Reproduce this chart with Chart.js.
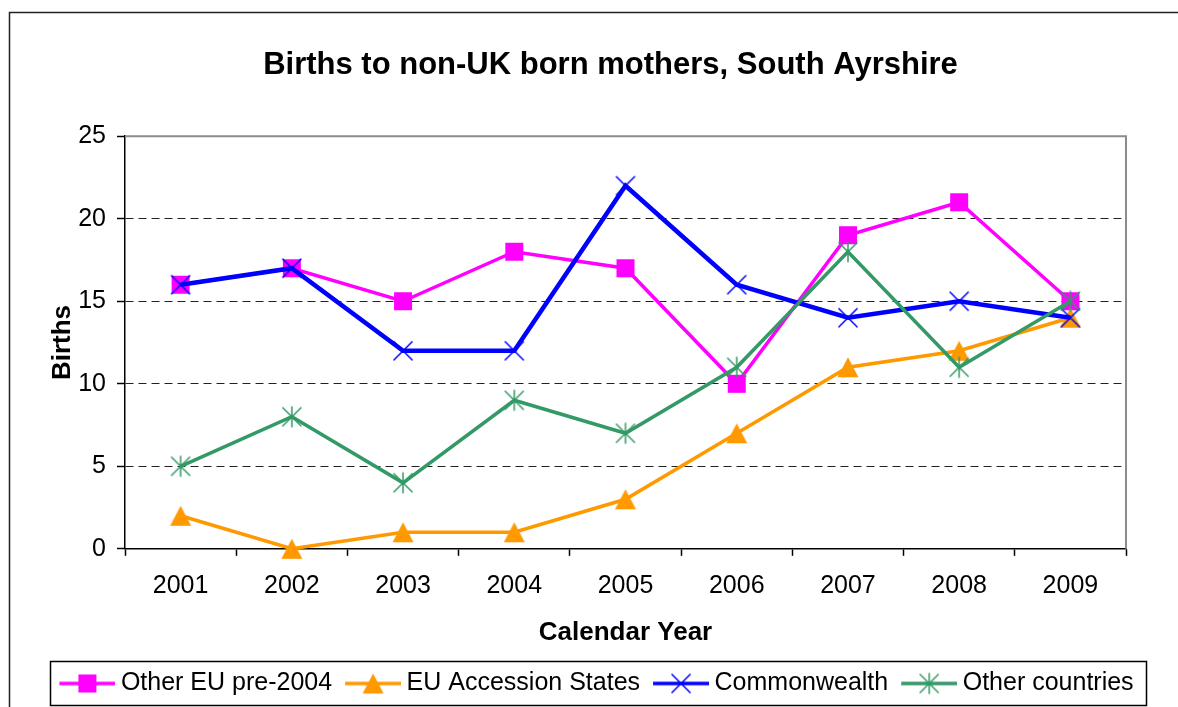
<!DOCTYPE html>
<html>
<head>
<meta charset="utf-8">
<title>Births to non-UK born mothers, South Ayrshire</title>
<script src="https://cdn.jsdelivr.net/npm/chart.js@4.4.1/dist/chart.umd.min.js"></script>
<style>
  html, body { margin: 0; padding: 0; background: #fff; }
  #wrap { width: 1178px; height: 707px; }
</style>
</head>
<body>
<div id="wrap"><canvas id="births" width="1178" height="707"></canvas></div>
<script>
// values
const years = ['2001', '2002', '2003', '2004', '2005', '2006', '2007', '2008', '2009'];
const otherEuPre2004 = [16, 17, 15, 18, 17, 10, 19, 21, 15];
const euAccession = [2, 0, 1, 1, 3, 7, 11, 12, 14];
const commonwealth = [16, 17, 12, 12, 22, 16, 14, 15, 14];
const otherCountries = [5, 8, 4, 9, 7, 11, 18, 11, 15];
const yTicks = [0, 5, 10, 15, 20, 25];
const seriesNames = ['Other EU pre-2004', 'EU Accession States', 'Commonwealth', 'Other countries'];
const seriesValues = [otherEuPre2004, euAccession, commonwealth, otherCountries];

// look of each series, Excel style
const looks = [
  { color: '#FF00FF', marker: 'square', width: 3.5 },
  { color: '#FF9900', marker: 'triangle', width: 3.5 },
  { color: '#0000FF', marker: 'cross', width: 4.5 },
  { color: '#339966', marker: 'star', width: 3.5 }
];

const FONT = "'Liberation Sans', Arial, sans-serif";
Chart.defaults.font.family = FONT;
Chart.defaults.color = '#000';

function drawMarker(g, kind, color, cx, cy) {
  g.fillStyle = color;
  g.strokeStyle = color;
  g.lineWidth = 1.5;
  if (kind === 'square') {
    g.fillRect(cx - 9, cy - 9, 18, 18);
  } else if (kind === 'triangle') {
    g.beginPath();
    g.moveTo(cx, cy - 10);
    g.lineTo(cx + 10.5, cy + 10);
    g.lineTo(cx - 10.5, cy + 10);
    g.closePath();
    g.fill();
  } else {
    g.beginPath();
    g.moveTo(cx - 9.5, cy - 9.5); g.lineTo(cx + 9.5, cy + 9.5);
    g.moveTo(cx + 9.5, cy - 9.5); g.lineTo(cx - 9.5, cy + 9.5);
    if (kind === 'star') { g.moveTo(cx, cy - 10.5); g.lineTo(cx, cy + 10.5); }
    g.stroke();
  }
}

function pointGlyph(look) {
  const c = document.createElement('canvas');
  c.width = 24; c.height = 24;
  drawMarker(c.getContext('2d'), look.marker, look.color, 12, 12);
  return c;
}

function legendGlyph(look) {
  const c = document.createElement('canvas');
  c.width = 64; c.height = 24;
  const g = c.getContext('2d');
  g.strokeStyle = look.color;
  g.lineWidth = 3.5;
  g.beginPath(); g.moveTo(8, 12); g.lineTo(64, 12); g.stroke();
  drawMarker(g, look.marker, look.color, 36, 12);
  return c;
}

const legendGlyphs = looks.map(legendGlyph);

const datasets = seriesValues.map((vals, i) => ({
  label: seriesNames[i],
  data: vals,
  borderColor: looks[i].color,
  backgroundColor: looks[i].color,
  borderWidth: looks[i].width,
  pointStyle: pointGlyph(looks[i]),
  pointRadius: 10,
  tension: 0,
  fill: false,
  clip: false,
  order: seriesNames.length - i
}));

const excelFrame = {
  id: 'excelFrame',
  afterLayout(chart) {
    // Excel centres title and legend on the whole chart object, not the canvas
    chart.titleBlock.left += 95;
    chart.legend.left += 33;
    chart.legend.right += 33;
  },
  beforeDraw(chart) {
    const ctx = chart.ctx;
    ctx.save();
    ctx.fillStyle = '#fff';
    ctx.fillRect(0, 0, chart.width, chart.height);
    ctx.strokeStyle = '#222';
    ctx.lineWidth = 1.5;
    ctx.strokeRect(9.5, 12.5, 1400, 900);
    ctx.restore();
  },
  beforeDatasetsDraw(chart) {
    const {ctx, chartArea: a} = chart;
    ctx.save();
    ctx.strokeStyle = '#8c8c8c';
    ctx.lineWidth = 2;
    ctx.beginPath();
    ctx.moveTo(a.left, a.top);
    ctx.lineTo(a.right, a.top);
    ctx.lineTo(a.right, a.bottom);
    ctx.stroke();
    ctx.restore();
  },
  afterDraw(chart) {
    const hb = chart.legend.legendHitBoxes;
    if (!hb || !hb.length) return;
    const first = hb[0], last = hb[hb.length - 1];
    const ctx = chart.ctx;
    ctx.save();
    ctx.strokeStyle = '#000';
    ctx.lineWidth = 1.5;
    const x1 = Math.round(first.left - 8.5) + 0.5;
    const y1 = Math.round(first.top - 10.5) + 0.5;
    const x2 = Math.round(last.left + last.width + 12) + 0.5;
    const y2 = Math.round(first.top + first.height + 8.5) + 0.5;
    ctx.strokeRect(x1, y1, x2 - x1, y2 - y1);
    ctx.restore();
  }
};

new Chart(document.getElementById('births'), {
  type: 'line',
  data: { labels: years, datasets: datasets },
  plugins: [excelFrame],
  options: {
    responsive: false,
    animation: false,
    devicePixelRatio: 1,
    layout: { padding: { top: 0, left: 0, right: 52, bottom: 1 } },
    plugins: {
      tooltip: { enabled: false },
      title: {
        display: true,
        text: 'Births to non-UK born mothers, South Ayrshire',
        color: '#000',
        font: { size: 31, weight: 'bold' },
        padding: { top: 47, bottom: 52 }
      },
      legend: {
        position: 'bottom',
        labels: {
          usePointStyle: true,
          pointStyleWidth: 50,
          padding: 12,
          color: '#000',
          font: { size: 25 },
          generateLabels: chart => chart.data.datasets.map((ds, i) => ({
            text: ds.label,
            fillStyle: ds.borderColor,
            strokeStyle: ds.borderColor,
            lineWidth: 0,
            pointStyle: legendGlyphs[i],
            fontColor: '#000',
            hidden: false,
            datasetIndex: i
          }))
        }
      }
    },
    scales: {
      x: {
        offset: true,
        grid: {
          offset: true,
          drawOnChartArea: false,
          drawTicks: true,
          tickLength: 7,
          tickColor: '#000',
          tickWidth: 1.5
        },
        border: { color: '#000', width: 1.5 },
        ticks: { font: { size: 25 }, padding: 15, maxRotation: 0, autoSkip: false, color: '#000' },
        title: {
          display: true,
          text: 'Calendar Year',
          color: '#000',
          font: { size: 26, weight: 'bold' },
          padding: { top: 1, bottom: 11 }
        }
      },
      y: {
        min: 0,
        max: 25,
        afterBuildTicks: scale => { scale.ticks = yTicks.map(v => ({ value: v })); },
        afterFit: scale => { scale.width = 125; },
        grid: {
          color: '#222',
          lineWidth: 1,
          drawTicks: true,
          tickLength: 8,
          tickColor: '#000',
          tickWidth: 1.5
        },
        border: { color: '#000', width: 1.5, dash: [8, 5] },
        ticks: { font: { size: 25 }, padding: 11, color: '#000' },
        title: {
          display: true,
          text: 'Births',
          color: '#000',
          font: { size: 26, weight: 'bold' },
          padding: { top: 47, bottom: 0 }
        }
      }
    }
  }
});
</script>
</body>
</html>
